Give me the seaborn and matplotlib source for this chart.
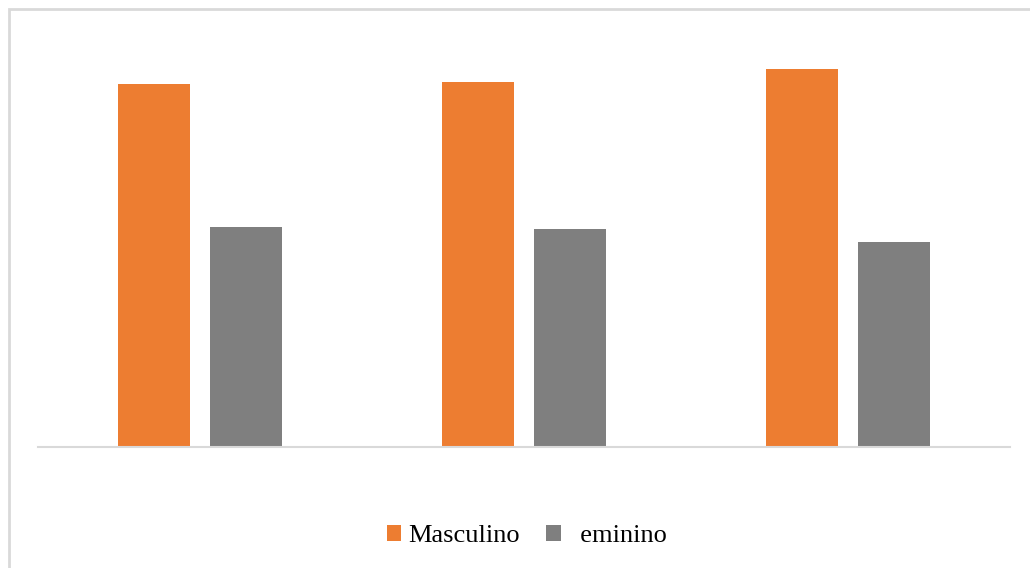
import matplotlib
matplotlib.use("Agg")
import matplotlib.pyplot as plt
from matplotlib.patches import Rectangle
import seaborn as sns
import pandas as pd

# Share (%) per group and sex
grupos = ["Grupo 1", "Grupo 2", "Grupo 3"]
masculino = [62.2, 62.6, 64.9]
femenino = [37.8, 37.4, 35.1]
serie_labels = ["Masculino", "  eminino"]
colores = ["#ED7D31", "#7F7F7F"]

df = pd.DataFrame({
    "grupo": grupos * 2,
    "sexo": [serie_labels[0]] * 3 + [serie_labels[1]] * 3,
    "valor": masculino + femenino,
})

sns.set_style("white")
plt.rcParams["font.family"] = ["Liberation Serif", "DejaVu Serif"]

fig = plt.figure(figsize=(10.3, 5.68), dpi=100)
ax = fig.add_axes([38 / 1030, 121 / 568, 972 / 1030, 408 / 568])

sns.barplot(data=df, x="grupo", y="valor", hue="sexo", palette=colores,
            width=0.568, gap=0.207, saturation=1, ax=ax, legend=True,
            edgecolor="none")

ax.set_xlim(-0.5, 2.5)
ax.set_ylim(0, 70)
ax.set_xlabel("")
ax.set_ylabel("")
ax.set_xticks([])
ax.set_yticks([])
for side in ["top", "right", "left"]:
    ax.spines[side].set_visible(False)
ax.spines["bottom"].set_color("#D9D9D9")
ax.spines["bottom"].set_linewidth(1.5)

# Chart-area frame
fig.patches.append(Rectangle((8.5 / 1030, -0.1), 1.2, (568 - 9.5) / 568 + 0.1,
                             transform=fig.transFigure, fill=False,
                             edgecolor="#D9D9D9", linewidth=2.0, zorder=0))

ax.legend(loc="center", bbox_to_anchor=(527 / 1030, (568 - 536) / 568),
          bbox_transform=fig.transFigure, ncol=2, frameon=False,
          prop={"family": "Liberation Serif", "size": 19},
          labelcolor="black",
          handlelength=0.55, handleheight=0.55, handletextpad=0.25,
          columnspacing=1.0)

fig.savefig("out.png", dpi=100)
